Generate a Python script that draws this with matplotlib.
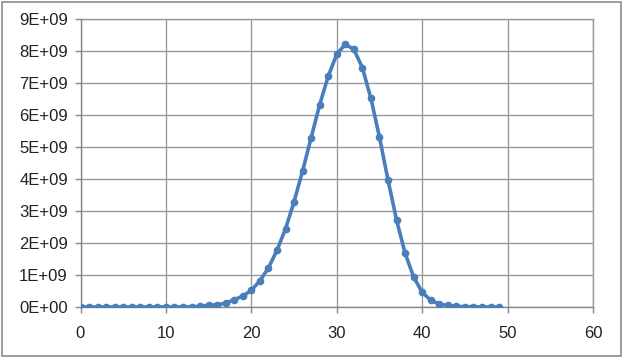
import numpy as np
import matplotlib.pyplot as plt
from matplotlib.patches import Rectangle
from matplotlib.ticker import FuncFormatter

# values (y in units of 1E+09)
x_vals = list(range(50))
y_vals = [0.0, 0.0, 0.0, 0.0, 0.0, 0.0, 0.0, 0.0, 0.0, 0.0,
          0.0, 0.0, 0.0, 0.005, 0.02, 0.06, 0.07, 0.12, 0.23, 0.34,
          0.52, 0.82, 1.22, 1.77, 2.44, 3.29, 4.25, 5.29, 6.32, 7.21,
          7.90, 8.21, 8.05, 7.48, 6.52, 5.31, 3.97, 2.72, 1.68, 0.94,
          0.46, 0.21, 0.09, 0.05, 0.02, 0.01, 0.005, 0.0, 0.0, 0.0]
x_ticks = [0, 10, 20, 30, 40, 50, 60]
y_ticks = [0, 1, 2, 3, 4, 5, 6, 7, 8, 9]

BLUE = '#4a7ebb'
GRID = '#9a9a9a'

plt.rcParams['font.family'] = ['Liberation Sans', 'DejaVu Sans']

fig = plt.figure(figsize=(6.23, 3.57), dpi=100)
ax = fig.add_axes([80.5 / 623, 1 - 307 / 357, (593 - 80.5) / 623, (307 - 19) / 357])

ax.plot(x_vals, y_vals, color=BLUE, lw=2.6, marker='o', ms=4.5,
        mfc=BLUE, mec=BLUE, solid_joinstyle='round', zorder=3)

ax.set_xlim(0, 60)
ax.set_ylim(0, 9)
ax.set_xticks(x_ticks)
ax.set_yticks(y_ticks)
ax.yaxis.set_major_formatter(FuncFormatter(lambda v, p: '%dE+%02d' % (v, 9 if v else 0)))
ax.grid(True, color=GRID, lw=1)
ax.set_axisbelow(True)
for s in ax.spines.values():
    s.set_color(GRID)
    s.set_linewidth(1)
ax.spines['left'].set_color('#868686')
ax.spines['bottom'].set_color('#868686')
ax.tick_params(axis='both', colors='#868686', length=4, width=1,
               labelsize=12, labelcolor='#222222')
ax.tick_params(axis='x', pad=10)
ax.tick_params(axis='y', pad=5)

# chart border
fig.patches.append(Rectangle((1.5 / 623, 1.5 / 357), 619.5 / 623, 354 / 357,
                             transform=fig.transFigure, fill=False,
                             ec='#8c8c8c', lw=1.2))

fig.savefig('out.png', dpi=100)
